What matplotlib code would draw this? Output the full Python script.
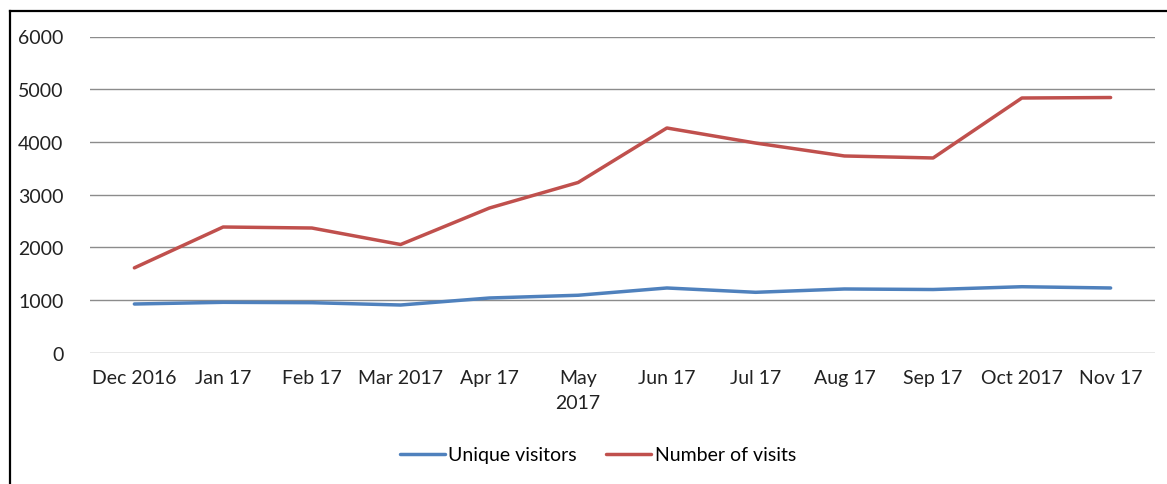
import matplotlib
matplotlib.use("Agg")
import matplotlib.pyplot as plt
from matplotlib.lines import Line2D

categories = ["Dec 2016", "Jan 17", "Feb 17", "Mar 2017", "Apr 17", "May\n2017",
              "Jun 17", "Jul 17", "Aug 17", "Sep 17", "Oct 2017", "Nov 17"]
unique_visitors = [924, 956, 949, 905, 1038, 1090, 1228, 1146, 1209, 1199, 1252, 1228]
number_of_visits = [1610, 2385, 2366, 2053, 2745, 3230, 4264, 3978, 3733, 3695, 4833, 4842]
y_ticks = [0, 1000, 2000, 3000, 4000, 5000, 6000]

plt.rcParams['font.family'] = ['Lato', 'DejaVu Sans']
W, H = 1167, 485
fig = plt.figure(figsize=(W / 100, H / 100), dpi=100)
ax = fig.add_axes([90 / W, 1 - 353.7 / H, (1155 - 90) / W, (353.7 - 37.5) / H])

x = list(range(len(categories)))
ax.plot(x, unique_visitors, color="#4F81BD", lw=2.5, label="Unique visitors", solid_capstyle="round")
ax.plot(x, number_of_visits, color="#C0504D", lw=2.5, label="Number of visits", solid_capstyle="round")

ax.set_xlim(-0.5, len(categories) - 0.5)
ax.set_ylim(0, 6000)
ax.set_yticks(y_ticks)
ax.set_yticklabels([str(v) for v in y_ticks])
ax.set_xticks(x)
ax.set_xticklabels(categories, linespacing=1.55)
ax.tick_params(axis="y", length=0, pad=19, labelsize=14, colors="#222222")
ax.tick_params(axis="x", length=0, pad=12, labelsize=14, colors="#222222")
ax.grid(axis="y", color="#8c8c8c", lw=1)
ax.set_axisbelow(True)
for s in ax.spines.values():
    s.set_visible(False)

fig.legend(loc="center", bbox_to_anchor=(598 / W, 1 - 456 / H), ncol=2, frameon=False,
           fontsize=14, handlelength=2.3, handletextpad=0.2, columnspacing=1.5)

# outer border (left and top edges)
fig.add_artist(Line2D([10 / W, 10 / W], [0, 1 - 12 / H], transform=fig.transFigure, color="black", lw=1.6))
fig.add_artist(Line2D([10 / W, 1], [1 - 12 / H, 1 - 12 / H], transform=fig.transFigure, color="black", lw=1.6))

fig.savefig("out.png", dpi=100)
